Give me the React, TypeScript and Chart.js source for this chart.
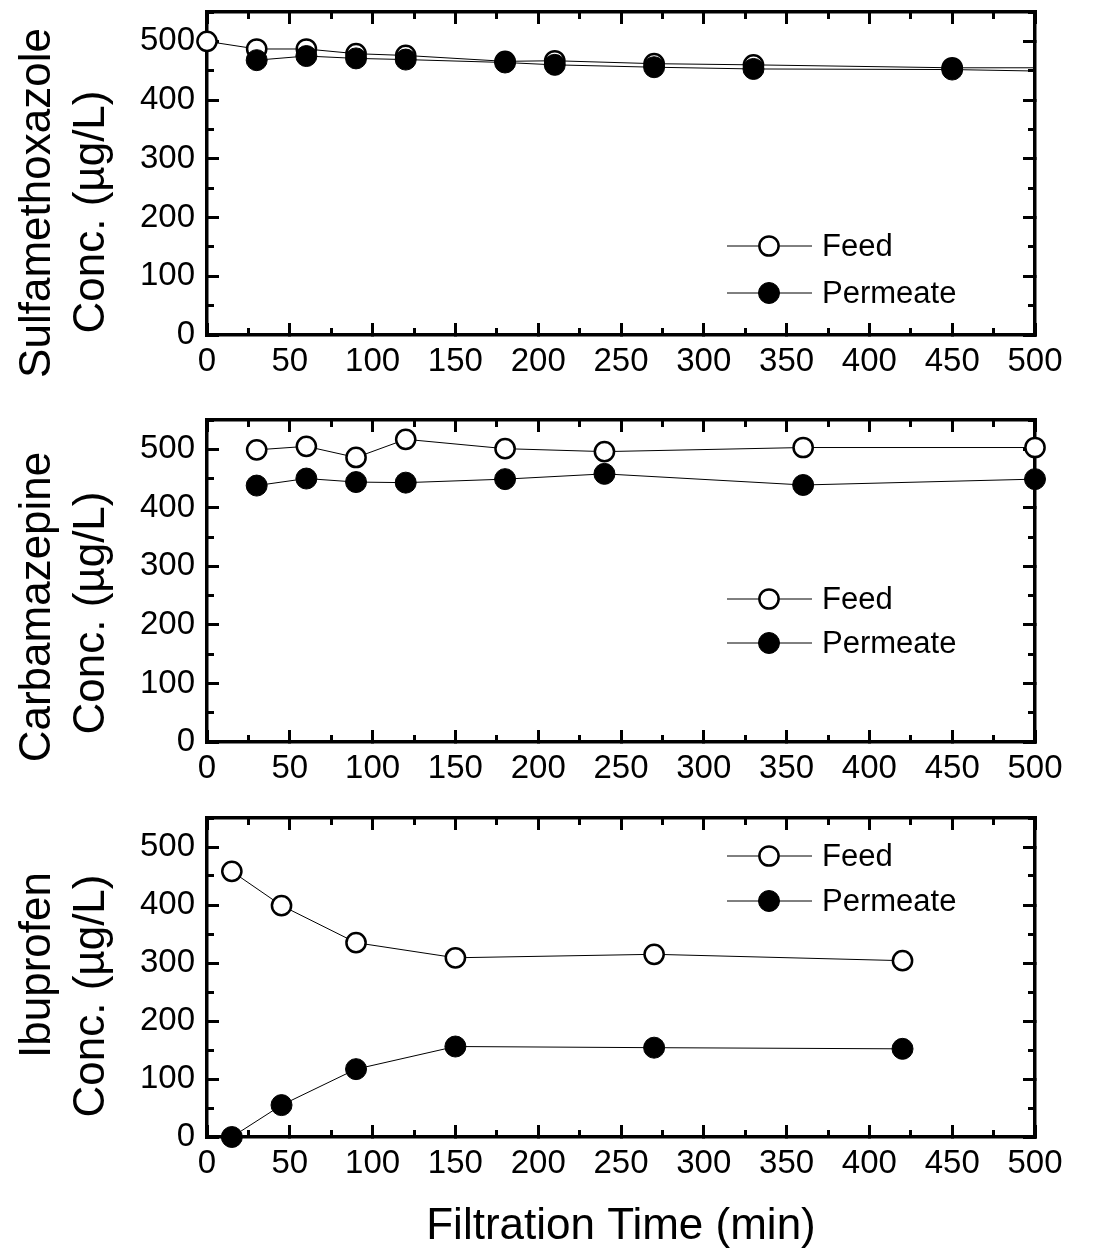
import React, { useEffect, useRef } from 'react';
import { Chart, registerables } from 'chart.js';

Chart.register(...registerables);

const FONT = 'Liberation Sans, Arial, Helvetica, sans-serif';

// ---- Data (Filtration time in min, concentration in µg/L) ----
// Sulfamethoxazole
const smxFeedTime = [0, 30, 60, 90, 120, 180, 210, 270, 330, 450, 510];
const smxFeedConc = [500, 487, 487, 479, 476, 466, 467, 462, 460, 455, 455];
const smxPermTime = [30, 60, 90, 120, 180, 210, 270, 330, 450, 510];
const smxPermConc = [468, 475, 471, 469, 464, 460, 456, 453, 452, 449];

// Carbamazepine
const cbzTime = [30, 60, 90, 120, 180, 240, 360, 500];
const cbzFeedConc = [499, 505, 486, 517, 501, 496, 503, 503];
const cbzPermConc = [438, 450, 444, 443, 449, 458, 439, 449];

// Ibuprofen
const ibuTime = [15, 45, 90, 150, 270, 420];
const ibuFeedConc = [458, 399, 335, 309, 315, 304];
const ibuPermConc = [0, 55, 117, 156, 154, 152];

const seriesLabels = ['Feed', 'Permeate'];
const compoundNames = ['Sulfamethoxazole', 'Carbamazepine', 'Ibuprofen'];
const yUnitLabel = 'Conc. (µg/L)';
const xAxisLabel = 'Filtration Time (min)';

const X_MIN = 0;
const X_MAX = 500;
const Y_MIN = 0;
const Y_MAX = 550;

const W = 1098;
const AREA_LEFT = 207;
const AREA_RIGHT = 1035;

interface PanelCfg {
  top: number;
  height: number;
  areaTop: number;
  areaBottom: number;
  feedT: number[];
  feedC: number[];
  permT: number[];
  permC: number[];
  title: string[];
  titlePos: number[][];
  legendRows: number[];
  clip: any;
  xTitle?: string;
}

const panels: PanelCfg[] = [
  {
    top: 0, height: 400, areaTop: 12, areaBottom: 335,
    feedT: smxFeedTime, feedC: smxFeedConc, permT: smxPermTime, permC: smxPermConc,
    title: [compoundNames[0], yUnitLabel], titlePos: [[38, 203], [92, 212]],
    legendRows: [246, 293],
    clip: { left: 20, top: 20, right: 0, bottom: 20 },
  },
  {
    top: 400, height: 400, areaTop: 20, areaBottom: 342,
    feedT: cbzTime, feedC: cbzFeedConc, permT: cbzTime, permC: cbzPermConc,
    title: [compoundNames[1], yUnitLabel], titlePos: [[38, 207], [92, 213]],
    legendRows: [199, 243],
    clip: false,
  },
  {
    top: 800, height: 451, areaTop: 18, areaBottom: 337,
    feedT: ibuTime, feedC: ibuFeedConc, permT: ibuTime, permC: ibuPermConc,
    title: [compoundNames[2], yUnitLabel], titlePos: [[38, 165], [92, 196]],
    legendRows: [56, 101],
    clip: false,
    xTitle: xAxisLabel,
  },
];

const FEED_R = 9.6;
const FEED_BW = 2.5;
const PERM_R = 10.5;
const PERM_BW = 1;

const fixSize = (size: number) => (scale: any) => {
  if (scale.isHorizontal()) scale.height = size;
  else scale.width = size;
  scale.paddingLeft = 0;
  scale.paddingRight = 0;
  scale.paddingTop = 0;
  scale.paddingBottom = 0;
};

const titlePlugin = {
  id: 'yTitles',
  afterDraw(chart: any, _args: any, opts: any) {
    const ctx = chart.ctx;
    ctx.save();
    ctx.fillStyle = '#000';
    ctx.font = `44px ${FONT}`;
    ctx.textAlign = 'center';
    ctx.textBaseline = 'middle';
    (opts.lines || []).forEach((line: string, i: number) => {
      const [x, y] = opts.pos[i];
      ctx.save();
      ctx.translate(x, y);
      ctx.rotate(-Math.PI / 2);
      ctx.fillText(line, 0, 0);
      ctx.restore();
    });
    ctx.restore();
  },
};

const legendPlugin = {
  id: 'innerLegend',
  afterDatasetsDraw(chart: any, _args: any, opts: any) {
    const ctx = chart.ctx;
    const styles = [
      { r: FEED_R, bw: FEED_BW, fill: '#fff' },
      { r: PERM_R, bw: PERM_BW, fill: '#000' },
    ];
    chart.data.datasets.forEach((ds: any, i: number) => {
      const y = opts.rows[i];
      const st = styles[i];
      ctx.save();
      ctx.strokeStyle = '#000';
      ctx.lineWidth = 1;
      ctx.beginPath();
      ctx.moveTo(727, y);
      ctx.lineTo(812, y);
      ctx.stroke();
      ctx.beginPath();
      ctx.arc(769, y, st.r, 0, Math.PI * 2);
      ctx.fillStyle = st.fill;
      ctx.fill();
      ctx.lineWidth = st.bw;
      ctx.stroke();
      ctx.fillStyle = '#000';
      ctx.font = `31px ${FONT}`;
      ctx.textAlign = 'left';
      ctx.textBaseline = 'middle';
      ctx.fillText(ds.label, 822, y + 1);
      ctx.restore();
    });
  },
};

function makeTickAxis(kind: 'x' | 'y', position: string, weight: number, step: number, len: number, size: number, labels: boolean, border: boolean, extra: any = {}) {
  const isX = kind === 'x';
  return {
    type: 'linear',
    min: isX ? X_MIN : Y_MIN,
    max: isX ? X_MAX : Y_MAX,
    position,
    weight,
    ticks: {
      stepSize: step,
      display: labels,
      autoSkip: false,
      maxRotation: 0,
      includeBounds: false,
      color: '#000',
      padding: isX ? 19 : 24,
      font: { size: 33, family: FONT },
    },
    grid: {
      drawOnChartArea: false,
      drawTicks: true,
      tickLength: len,
      tickWidth: 3,
      tickColor: '#000',
    },
    border: { display: border, width: 3.5, color: '#000' },
    afterFit: fixSize(size),
    ...extra,
  };
}

function Panel({ cfg }: { cfg: PanelCfg }) {
  const ref = useRef<HTMLCanvasElement | null>(null);
  useEffect(() => {
    if (!ref.current) return;
    const feedData = cfg.feedT.map((t, i) => ({ x: t, y: cfg.feedC[i] }));
    const permData = cfg.permT.map((t, i) => ({ x: t, y: cfg.permC[i] }));
    const xTitle = cfg.xTitle
      ? {
          display: true,
          text: cfg.xTitle,
          color: '#000',
          font: { size: 44, family: FONT, lineHeight: 1.1 },
          padding: { top: 0, bottom: 0 },
        }
      : { display: false };
    const chart = new Chart(ref.current, {
      type: 'line',
      data: {
        datasets: [
          {
            label: seriesLabels[0],
            data: feedData,
            borderColor: '#000',
            borderWidth: 1,
            pointRadius: cfg.feedT.map((t) => (t > X_MAX ? 0 : FEED_R)),
            pointHoverRadius: cfg.feedT.map((t) => (t > X_MAX ? 0 : FEED_R)),
            pointBorderWidth: FEED_BW,
            pointBackgroundColor: '#fff',
            pointBorderColor: '#000',
            tension: 0,
            clip: cfg.clip,
            order: 1,
          },
          {
            label: seriesLabels[1],
            data: permData,
            borderColor: '#000',
            borderWidth: 1,
            pointRadius: cfg.permT.map((t) => (t > X_MAX ? 0 : PERM_R)),
            pointHoverRadius: cfg.permT.map((t) => (t > X_MAX ? 0 : PERM_R)),
            pointBorderWidth: PERM_BW,
            pointBackgroundColor: '#000',
            pointBorderColor: '#000',
            tension: 0,
            clip: cfg.clip,
            order: 0,
          },
        ],
      } as any,
      options: {
        responsive: false,
        animation: false,
        devicePixelRatio: 1,
        events: [],
        layout: { padding: 0, autoPadding: false } as any,
        plugins: {
          legend: { display: false },
          tooltip: { enabled: false },
          yTitles: { lines: cfg.title, pos: cfg.titlePos },
          innerLegend: { rows: cfg.legendRows },
        } as any,
        scales: {
          x: makeTickAxis('x', 'bottom', 1, 50, -12, cfg.height - cfg.areaBottom, true, true, { title: xTitle }),
          xm: makeTickAxis('x', 'bottom', 0, 25, -7, 0, false, false),
          xt: makeTickAxis('x', 'top', 1, 50, -12, cfg.areaTop, false, true),
          xtm: makeTickAxis('x', 'top', 0, 25, -7, 0, false, false),
          y: makeTickAxis('y', 'left', 1, 100, -12, AREA_LEFT, true, true),
          ym: makeTickAxis('y', 'left', 0, 50, -7, 0, false, false),
          yr: makeTickAxis('y', 'right', 1, 100, -12, W - AREA_RIGHT, false, true),
          yrm: makeTickAxis('y', 'right', 0, 50, -7, 0, false, false),
        } as any,
      },
      plugins: [titlePlugin, legendPlugin],
    });
    return () => chart.destroy();
  }, [cfg]);
  return (
    <canvas
      ref={ref}
      width={W}
      height={cfg.height}
      style={{ position: 'absolute', left: 0, top: cfg.top, width: W, height: cfg.height }}
    />
  );
}

export default function App() {
  return (
    <div style={{ position: 'absolute', left: 0, top: 0, width: W, height: 1251, background: '#fff' }}>
      {panels.map((p, i) => (
        <Panel key={i} cfg={p} />
      ))}
    </div>
  );
}
